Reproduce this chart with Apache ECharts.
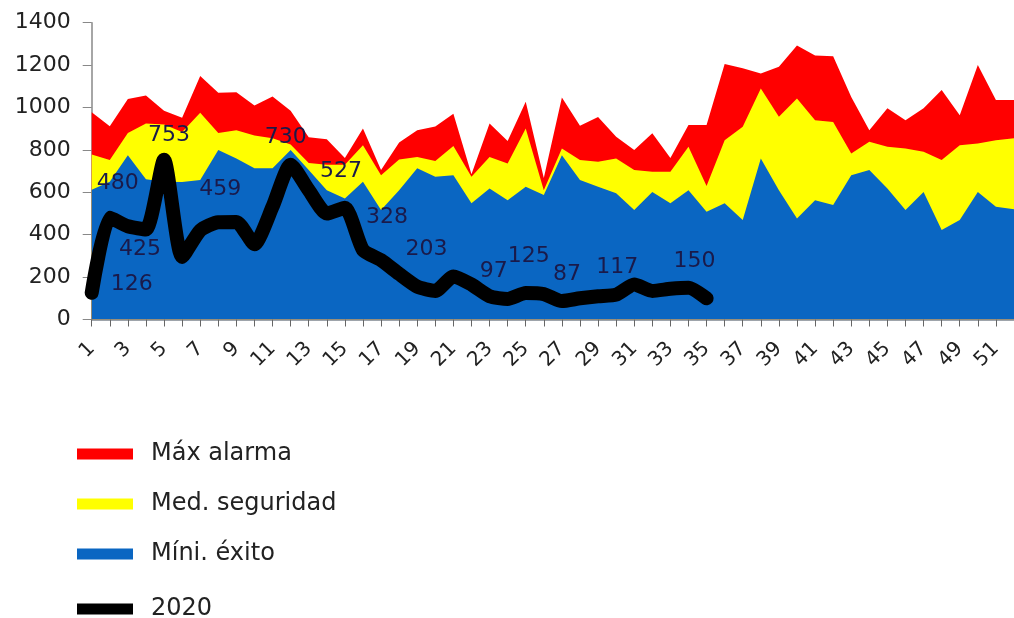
<!DOCTYPE html>
<html>
<head>
<meta charset="utf-8">
<script src="https://cdn.jsdelivr.net/npm/echarts@6/dist/echarts.min.js"></script>
<style>
html,body{margin:0;padding:0;background:#fff;}
#chart{width:1014px;height:618px;}
</style>
</head>
<body>
<div id="chart"></div>
<script>
// ---- data ----
var weeks = ['1','2','3','4','5','6','7','8','9','10','11','12','13','14','15','16','17','18','19','20','21','22','23','24','25','26','27','28','29','30','31','32','33','34','35','36','37','38','39','40','41','42','43','44','45','46','47','48','49','50','51','52'];
var maxAlarma = [978,912,1040,1057,985,952,1148,1070,1072,1010,1052,985,860,850,762,901,705,835,893,910,970,685,925,842,1027,668,1047,914,955,862,799,878,762,917,917,1205,1185,1160,1192,1292,1245,1242,1050,893,996,940,996,1082,964,1200,1035,1035];
var medSeguridad = [778,752,880,925,920,885,975,880,893,868,855,826,738,730,730,822,680,755,767,748,818,673,767,736,901,610,807,752,744,760,705,697,697,815,630,846,909,1090,956,1043,940,932,783,838,815,807,791,752,822,830,846,855];
var miniExito = [612,650,775,662,650,648,658,799,760,713,713,799,705,610,571,650,516,610,713,673,681,548,618,563,626,587,775,658,626,595,516,602,548,610,508,548,469,760,610,477,563,540,681,705,618,516,602,422,469,602,532,520];
var y2020 = [126,480,440,425,753,295,420,459,460,355,532,730,610,500,527,328,280,215,155,135,203,165,110,97,125,120,87,100,110,117,165,135,145,150,100];
var yTicks = [0,200,400,600,800,1000,1200,1400];
var seriesNames = ['Máx alarma','Med. seguridad','Míni. éxito','2020'];

// label placement (style only): index -> [dx, dy]
var labelOffsets = {0:[40,-9],1:[8,-34],3:[-6,20],4:[5,-25],7:[2,-33],11:[-5,-27],14:[-4,-36],15:[24,-33],20:[-27,-27],23:[-14,-28],24:[3,-37],26:[5,-27],29:[1,-27],33:[6,-26]};

var font = 'DejaVu Sans';
var lineData = y2020.map(function(v,i){
  var o = {value:v};
  if (labelOffsets[i]) {
    o.label = {show:true, position:'inside', offset:labelOffsets[i], formatter:String(v),
      color:'#1a1a4a', fontFamily:font, fontSize:22};
  }
  return o;
});

function areaSeries(name, data, color){
  return {name:name, type:'line', data:data, showSymbol:false, symbol:'none',
    lineStyle:{width:0, color:color}, itemStyle:{color:color},
    areaStyle:{color:color, opacity:1}, emphasis:{disabled:true}, z:2};
}

var chart = echarts.init(document.getElementById('chart'), null, {renderer:'canvas'});
chart.setOption({
  animation:false,
  backgroundColor:'#ffffff',
  grid:{left:91.7, right:-8.5, top:22.7, bottom:298.5, containLabel:false},
  xAxis:{type:'category', data:weeks, boundaryGap:false,
    axisLine:{show:true, lineStyle:{color:'#7f8790', width:1.5}},
    axisTick:{show:true, interval:0, length:7, lineStyle:{color:'#666'}},
    axisLabel:{interval:1, rotate:45, margin:26, color:'#222', fontFamily:font, fontSize:20},
    splitLine:{show:false}},
  yAxis:{type:'value', min:yTicks[0], max:yTicks[yTicks.length-1], interval:200,
    axisLine:{show:true, lineStyle:{color:'#888', width:1.5}},
    axisTick:{show:true, length:9, lineStyle:{color:'#888'}},
    axisLabel:{margin:21, color:'#222', fontFamily:font, fontSize:22, formatter:function(v){return String(v);}},
    splitLine:{show:false}},
  legend:[
    {data:seriesNames.slice(0,3), orient:'vertical', left:72, top:437, icon:'rect',
     itemWidth:56, itemHeight:11, itemGap:26, selectedMode:false,
     textStyle:{color:'#222', fontFamily:font, fontSize:24, padding:[0,0,0,13]}},
    {data:[seriesNames[3]], orient:'vertical', left:72, top:592, icon:'rect',
     itemWidth:56, itemHeight:11, selectedMode:false,
     textStyle:{color:'#222', fontFamily:font, fontSize:24, padding:[0,0,0,13]}}
  ],
  series:[
    areaSeries(seriesNames[0], maxAlarma, '#ff0000'),
    areaSeries(seriesNames[1], medSeguridad, '#ffff00'),
    areaSeries(seriesNames[2], miniExito, '#0a66c2'),
    {name:seriesNames[3], type:'line', data:lineData, smooth:0.2, symbol:'circle', symbolSize:2,
     showSymbol:true, itemStyle:{color:'#000'}, lineStyle:{color:'#000', width:14, cap:'round', join:'round'},
     emphasis:{disabled:true}, z:5}
  ]
});
</script>
</body>
</html>
